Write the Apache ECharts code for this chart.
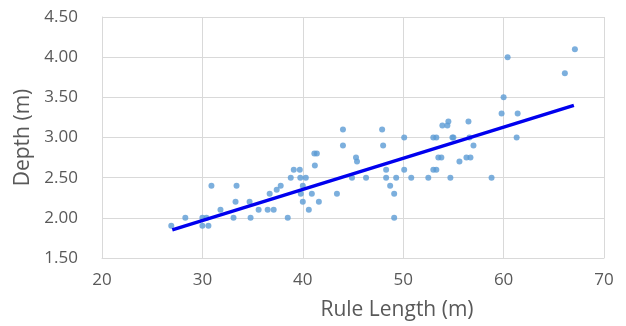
<!DOCTYPE html>
<html>
<head>
<meta charset="utf-8">
<script src="https://cdn.jsdelivr.net/npm/echarts@6/dist/echarts.min.js"></script>
<style>
  html, body { margin: 0; padding: 0; background: #fff; }
  #chart { width: 626px; height: 326px; }
</style>
</head>
<body>
<div id="chart"></div>
<script>
const ruleLength = [
  26.9, 28.3, 30.0, 30.4, 30.0, 30.6, 30.9, 31.8, 33.1, 33.3,
  33.4, 34.7, 34.8, 35.6, 36.5, 36.7, 37.1, 37.4, 37.8, 38.5,
  38.8, 39.1, 39.7, 39.75, 40.3, 40.0, 39.8, 40.0, 40.6, 40.9,
  41.2, 41.15, 41.4, 41.6, 43.4, 44.0, 44.0, 44.9, 45.3, 45.4,
  46.3, 47.9, 48.0, 48.3, 48.3, 48.7, 49.1, 49.1, 49.3, 50.1,
  50.1, 50.8, 52.5, 53.0, 53.3, 53.0, 53.3, 53.5, 53.8, 53.9,
  54.4, 54.5, 54.7, 54.9, 55.0, 55.6, 56.3, 56.7, 56.5, 56.6,
  57.0, 58.8, 59.8, 60.0, 60.4, 61.3, 61.4, 66.1, 67.1
]
const depth = [
  1.9, 2.0, 2.0, 2.0, 1.9, 1.9, 2.4, 2.1, 2.0, 2.2,
  2.4, 2.2, 2.0, 2.1, 2.1, 2.3, 2.1, 2.35, 2.4, 2.0,
  2.5, 2.6, 2.6, 2.5, 2.5, 2.4, 2.3, 2.2, 2.1, 2.3,
  2.65, 2.8, 2.8, 2.2, 2.3, 3.1, 2.9, 2.5, 2.75, 2.7,
  2.5, 3.1, 2.9, 2.6, 2.5, 2.4, 2.3, 2.0, 2.5, 3.0,
  2.6, 2.5, 2.5, 3.0, 3.0, 2.6, 2.6, 2.75, 2.75, 3.15,
  3.15, 3.2, 2.5, 3.0, 3.0, 2.7, 2.75, 2.75, 3.2, 3.0,
  2.9, 2.5, 3.3, 3.5, 4.0, 3.0, 3.3, 3.8, 4.1
]
// linear trend line end points
const trendX = [27, 67]
const trendY = [1.85, 3.40]

const chart = echarts.init(document.getElementById('chart'))

const labelFont = "'Open Sans', 'Liberation Sans', sans-serif"

const option = {
  animation: false,
  grid: {
    left: 102,
    right: 22,
    top: 17,
    bottom: 67
  },
  xAxis: {
    type: 'value',
    min: 20,
    max: 70,
    interval: 10,
    name: 'Rule Length (m)',
    nameLocation: 'middle',
    nameGap: 42,
    nameTextStyle: {
      color: '#595959',
      fontSize: 21,
      fontFamily: labelFont,
      padding: [0, 0, 0, 88]
    },
    axisLine: { lineStyle: { color: '#d9d9d9' } },
    axisTick: { show: false },
    axisLabel: {
      color: '#595959',
      fontSize: 17,
      fontFamily: labelFont,
      margin: 14
    },
    splitLine: { lineStyle: { color: '#d9d9d9' } }
  },
  yAxis: {
    type: 'value',
    min: 1.5,
    max: 4.5,
    interval: 0.5,
    name: 'Depth (m)',
    nameLocation: 'middle',
    nameGap: 67,
    nameTextStyle: {
      color: '#595959',
      fontSize: 21,
      fontFamily: labelFont
    },
    axisLine: { show: true, lineStyle: { color: '#d9d9d9' } },
    axisTick: { show: false },
    axisLabel: {
      color: '#595959',
      fontSize: 17,
      fontFamily: labelFont,
      margin: 24,
      formatter: (v) => v.toFixed(2)
    },
    splitLine: { lineStyle: { color: '#d9d9d9' } }
  },
  series: [
    {
      type: 'scatter',
      symbolSize: 6,
      itemStyle: { color: '#5b9bd5' },
      data: ruleLength.map((x, i) => [x, depth[i]]),
      z: 2
    },
    {
      type: 'line',
      symbol: 'none',
      lineStyle: { color: '#0000ee', width: 3.5 },
      data: trendX.map((x, i) => [x, trendY[i]]),
      z: 3
    }
  ]
}

chart.setOption(option)
</script>
</body>
</html>
